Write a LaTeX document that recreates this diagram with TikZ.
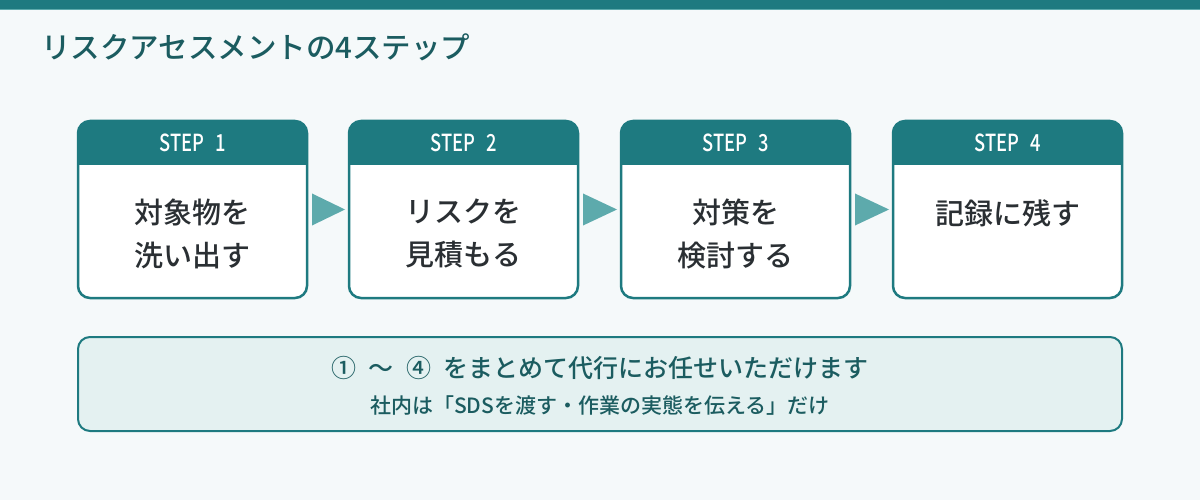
\documentclass[tikz,border=0pt]{standalone}
\usepackage{fontspec}
\setmainfont{Noto Sans CJK JP}
\newfontfamily\jpmed{Noto Sans CJK JP Medium}
\usetikzlibrary{positioning}
\definecolor{pagebg}{HTML}{F5F9FA}
\definecolor{tealmain}{HTML}{1E7A80}
\definecolor{tealsoft}{HTML}{5DAAAC}
\definecolor{tealdeep}{HTML}{1B5C60}
\definecolor{notefill}{HTML}{E4F1F1}
\definecolor{inkdark}{HTML}{2A2F33}
\tikzset{
  stepbox/.style={fill=white, rounded corners=12pt, minimum width=229pt, minimum height=177pt, inner sep=0pt, outer sep=0pt},
  stepline/.style={draw=tealmain, line width=2.5pt, rounded corners=12pt},
  steplabel/.style={text=white, font=\jpmed\fontsize{23.5}{25}\selectfont, inner sep=0pt},
  bodytext/.style={text=inkdark, font=\jpmed\fontsize{29}{43}\selectfont, align=center, inner sep=0pt, anchor=north},
  arrowfill/.style={fill=tealsoft},
  notebox/.style={fill=notefill, draw=tealmain, line width=2pt, rounded corners=12pt, minimum width=1044pt, minimum height=94pt},
  notemain/.style={text=tealdeep, font=\jpmed\fontsize{25}{27}\selectfont, inner sep=0pt},
  notesub/.style={text=tealdeep, font=\jpmed\fontsize{21}{23}\selectfont, inner sep=0pt}}

\begin{document}
\begin{tikzpicture}[x=1pt, y=-1pt]
\fill[pagebg] (0,0) rectangle (1200,500);
\useasboundingbox (0,0) rectangle (1200,500);
\fill[tealmain] (0,0) rectangle (1200,9);
\fill[tealsoft] (0,9) rectangle (1200,10.5);
\node[text=tealdeep, font=\jpmed\fontsize{29.5}{31}\selectfont, inner sep=0pt, anchor=west] (title) at (41,47) {リスクアセスメントの4ステップ};

\foreach \i/\x/\body in {1/192.5/{対象物を\\洗い出す}, 2/463.5/{リスクを\\見積もる}, 3/735.5/{対策を\\検討する}, 4/1007.5/{記録に残す}}{
  \node[stepbox] (s\i) at (\x,209.5) {};
  \begin{scope}
    \clip[rounded corners=12pt] (s\i.south west) rectangle (s\i.north east);
    \fill[tealmain] (s\i.north west) rectangle ([yshift=-44pt]s\i.north east);
  \end{scope}
  \draw[stepline] (s\i.south west) rectangle (s\i.north east);
  \node[steplabel] (h\i) at ([yshift=-22pt]s\i.north) {\scalebox{0.78}[1]{STEP\hspace{0.6em}\i}};
  \node[bodytext] (t\i) at (\x,199) {\body};
}
\foreach \i/\j in {1/2, 2/3, 3/4}
  \fill[arrowfill] ([shift={(5pt,16pt)}]s\i.east) -- ([xshift=-4pt]s\j.west) -- ([shift={(5pt,-16pt)}]s\i.east) -- cycle;

\node[notebox] (note) at (600,384) {};
\node[notemain] (n1) at (600,368) {①\enspace～\enspace④\enspace をまとめて代行にお任せいただけます};
\node[notesub] (n2) at (600,405) {社内は「SDSを渡す・作業の実態を伝える」だけ};
\end{tikzpicture}
\end{document}
